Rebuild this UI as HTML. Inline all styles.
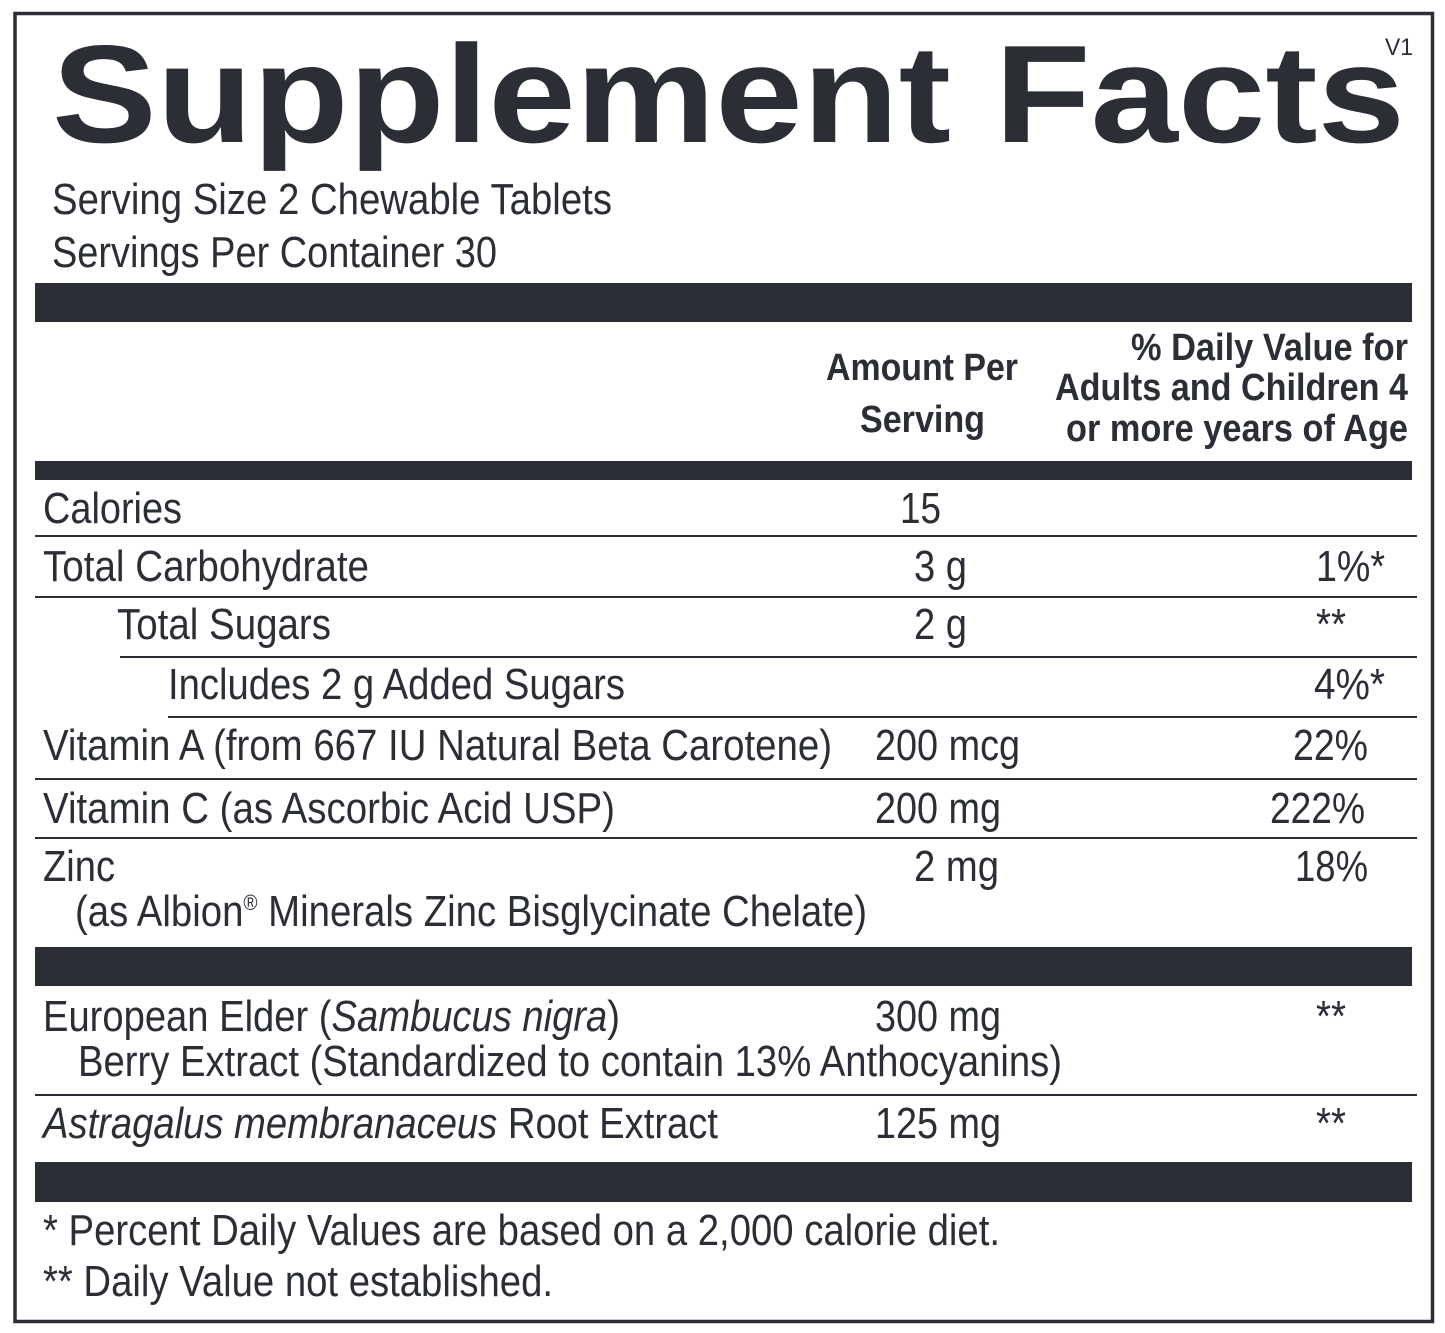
<!DOCTYPE html>
<html><head><meta charset="utf-8"><style>
html,body{margin:0;padding:0;background:#fff;}
svg{display:block;}
text{font-family:"Liberation Sans",Arial,sans-serif;fill:#2b2e35;}
</style></head><body>
<svg width="1445" height="1333" viewBox="0 0 1445 1333" xmlns="http://www.w3.org/2000/svg">
<rect x="15" y="13.5" width="1417.5" height="1308" fill="none" stroke="#2b2e35" stroke-width="3.5"/>
<g fill="#2b2e35">
<rect x="35" y="283" width="1377" height="39"/>
<rect x="35" y="461" width="1377" height="19"/>
<rect x="35" y="947" width="1377" height="39"/>
<rect x="35" y="1162" width="1377" height="40"/>
<rect x="35" y="535" width="1382" height="2"/>
<rect x="35" y="596" width="1382" height="2"/>
<rect x="120" y="656" width="1297" height="2"/>
<rect x="168" y="716" width="1249" height="2"/>
<rect x="35" y="778" width="1382" height="2"/>
<rect x="35" y="837" width="1382" height="2"/>
<rect x="35" y="1094" width="1382" height="2"/>
</g>
<text x="1385" y="55" font-size="24" textLength="28" lengthAdjust="spacingAndGlyphs">V1</text>
<text x="52" y="142" font-size="139" font-weight="bold" textLength="1353" lengthAdjust="spacingAndGlyphs">Supplement Facts</text>
<g font-size="44">
<text x="52" y="214" textLength="560" lengthAdjust="spacingAndGlyphs">Serving Size 2 Chewable Tablets</text>
<text x="52" y="267" textLength="445" lengthAdjust="spacingAndGlyphs">Servings Per Container 30</text>
</g>
<g font-size="38" font-weight="bold">
<text x="826" y="380" textLength="192" lengthAdjust="spacingAndGlyphs">Amount Per</text>
<text x="860" y="432" textLength="125" lengthAdjust="spacingAndGlyphs">Serving</text>
<text x="1131" y="360" textLength="277" lengthAdjust="spacingAndGlyphs">% Daily Value for</text>
<text x="1055" y="400" textLength="353" lengthAdjust="spacingAndGlyphs">Adults and Children 4</text>
<text x="1066" y="441" textLength="342" lengthAdjust="spacingAndGlyphs">or more years of Age</text>
</g>
<g font-size="44">
<text x="43" y="523" textLength="139" lengthAdjust="spacingAndGlyphs">Calories</text>
<text x="900" y="523" textLength="41" lengthAdjust="spacingAndGlyphs">15</text>
<text x="43" y="581" textLength="326" lengthAdjust="spacingAndGlyphs">Total Carbohydrate</text>
<text x="914" y="581" textLength="53" lengthAdjust="spacingAndGlyphs">3 g</text>
<text x="1316" y="581" textLength="69" lengthAdjust="spacingAndGlyphs">1%*</text>
<text x="117" y="639" textLength="214" lengthAdjust="spacingAndGlyphs">Total Sugars</text>
<text x="914" y="639" textLength="53" lengthAdjust="spacingAndGlyphs">2 g</text>
<text x="1316" y="639" textLength="30" lengthAdjust="spacingAndGlyphs">**</text>
<text x="168" y="699" textLength="457" lengthAdjust="spacingAndGlyphs">Includes 2 g Added Sugars</text>
<text x="1314" y="699" textLength="71" lengthAdjust="spacingAndGlyphs">4%*</text>
<text x="43" y="760" textLength="789" lengthAdjust="spacingAndGlyphs">Vitamin A (from 667 IU Natural Beta Carotene)</text>
<text x="875" y="760" textLength="145" lengthAdjust="spacingAndGlyphs">200 mcg</text>
<text x="1293" y="760" textLength="75" lengthAdjust="spacingAndGlyphs">22%</text>
<text x="43" y="823" textLength="572" lengthAdjust="spacingAndGlyphs">Vitamin C (as Ascorbic Acid USP)</text>
<text x="875" y="823" textLength="126" lengthAdjust="spacingAndGlyphs">200 mg</text>
<text x="1270" y="823" textLength="95" lengthAdjust="spacingAndGlyphs">222%</text>
<text x="43" y="881" textLength="72" lengthAdjust="spacingAndGlyphs">Zinc</text>
<text x="914" y="881" textLength="85" lengthAdjust="spacingAndGlyphs">2 mg</text>
<text x="1295" y="881" textLength="73" lengthAdjust="spacingAndGlyphs">18%</text>
<text x="75" y="926" textLength="792" lengthAdjust="spacingAndGlyphs">(as Albion<tspan font-size="22" dy="-16">®</tspan><tspan dy="16"> Minerals Zinc Bisglycinate Chelate)</tspan></text>
<text x="43" y="1031" textLength="577" lengthAdjust="spacingAndGlyphs">European Elder (<tspan font-style="italic">Sambucus nigra</tspan>)</text>
<text x="875" y="1031" textLength="126" lengthAdjust="spacingAndGlyphs">300 mg</text>
<text x="1316" y="1031" textLength="30" lengthAdjust="spacingAndGlyphs">**</text>
<text x="78" y="1076" textLength="984" lengthAdjust="spacingAndGlyphs">Berry Extract (Standardized to contain 13% Anthocyanins)</text>
<text x="43" y="1138" textLength="675" lengthAdjust="spacingAndGlyphs"><tspan font-style="italic">Astragalus membranaceus</tspan> Root Extract</text>
<text x="875" y="1138" textLength="126" lengthAdjust="spacingAndGlyphs">125 mg</text>
<text x="1316" y="1138" textLength="30" lengthAdjust="spacingAndGlyphs">**</text>
<text x="43" y="1245" textLength="957" lengthAdjust="spacingAndGlyphs">* Percent Daily Values are based on a 2,000 calorie diet.</text>
<text x="43" y="1296" textLength="510" lengthAdjust="spacingAndGlyphs">** Daily Value not established.</text>
</g>
</svg>
</body></html>
